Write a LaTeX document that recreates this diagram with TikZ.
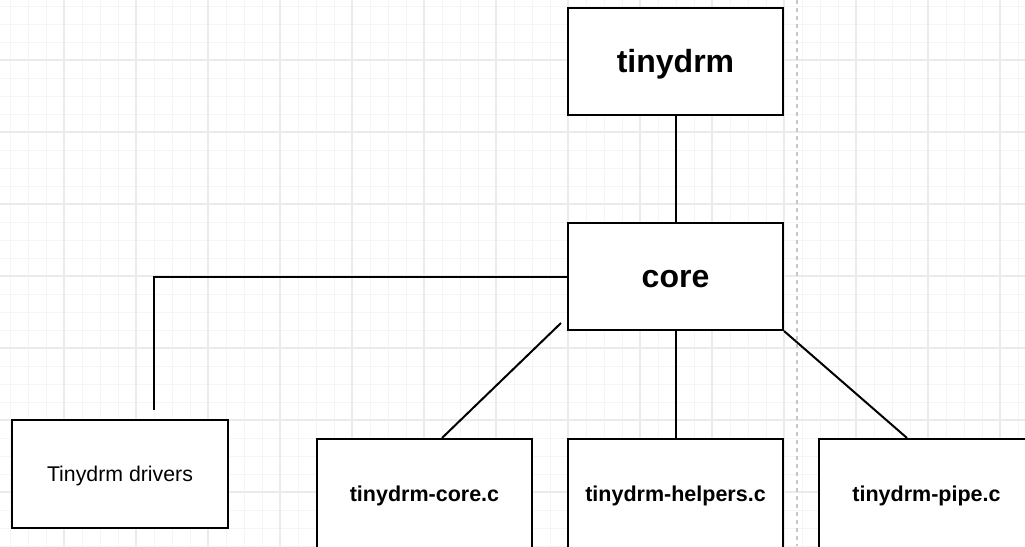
\documentclass[tikz,border=0pt]{standalone}
\usepackage{fontspec}
\setmainfont{Liberation Sans}
\usetikzlibrary{calc}
\definecolor{gridminor}{HTML}{F5F5F5}
\definecolor{gridmajor}{HTML}{EBEBEB}
\definecolor{sepgray}{HTML}{C6C6C6}
\tikzset{
  box/.style={draw=black, line width=2pt, fill=white, rectangle, anchor=north west,
    inner sep=0pt},
  bigbox/.style={box, minimum width=215pt, minimum height=107pt,
    text height=29pt, text depth=6.8pt,
    font=\fontsize{32}{38}\selectfont\bfseries},
  filebox/.style={box, minimum width=215pt, minimum height=110pt,
    text height=19.5pt, text depth=4.6pt,
    font=\fontsize{21.5}{26}\selectfont\bfseries},
  drvbox/.style={box, minimum width=216pt, minimum height=108pt,
    text height=19.3pt, text depth=4.5pt,
    font=\fontsize{21.3}{26}\selectfont},
  link/.style={draw=black, line width=2pt},
  minorline/.style={draw=gridminor, line width=1pt},
  majorline/.style={draw=gridmajor, line width=1.2pt},
}
\begin{document}
\begin{tikzpicture}[x=1pt, y=-1pt]
  \useasboundingbox (0,0) rectangle (1025,546);
  \clip (0,0) rectangle (1025,546);
  \fill[white] (0,0) rectangle (1025,546);
  % background grid
  \foreach \x in {10,28,...,1024} \draw[minorline] (\x,0) -- (\x,546);
  \foreach \y in {6,24,...,546} \draw[minorline] (0,\y) -- (1025,\y);
  \foreach \x in {64,136,...,1024} \draw[majorline] (\x,0) -- (\x,546);
  \foreach \y in {60,132,...,546} \draw[majorline] (0,\y) -- (1025,\y);
  % page separator
  \draw[sepgray, line width=1.6pt, dash pattern=on 4pt off 4pt] (797,0) -- (797,546);

  % boxes
  \node[bigbox] (tinydrm) at (567,7) {tinydrm};
  \node[bigbox] (core) at (567,222) {core};
  \node[drvbox] (drivers) at (11,419) {Tinydrm drivers};
  \node[filebox] (corec) at (316,438) {tinydrm-core.c};
  \node[filebox] (helpers) at (567,438) {tinydrm-helpers.c};
  \node[filebox] (pipe) at (818,438) {tinydrm-pipe.c};

  % connectors
  \coordinate (drvend) at (154,410);
  \coordinate (diagstart) at (561,323);
  \draw[link] (tinydrm.south) -- (core.north);
  \draw[link] (core.west) -| (drvend);
  \draw[link] (diagstart) -- ($(corec.north west)+(126,0)$);
  \draw[link] (core.south) -- (helpers.north);
  \draw[link] (core.south east) -- ($(pipe.north west)+(89,0)$);
\end{tikzpicture}
\end{document}
